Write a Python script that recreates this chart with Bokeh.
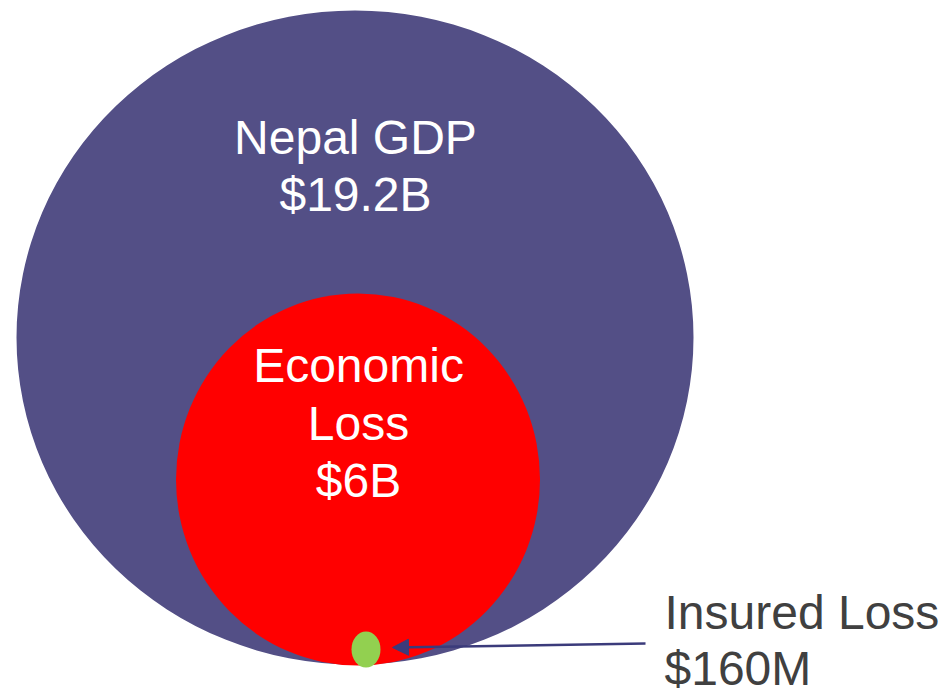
from bokeh.plotting import figure
from bokeh.models import Range1d, Arrow, NormalHead, ColumnDataSource
from bokeh.core.properties import value
from bokeh.embed import file_html
from bokeh.resources import INLINE

# Data
names = ["Nepal GDP", "Economic Loss", "Insured Loss"]
amounts = ["$19.2B", "$6B", "$160M"]
colors = ["#534F86", "#FF0000", "#92D050"]

# layout of circles (pixel space)
cx = [354.5, 357.5, 365.5]
cy = [337, 479, 649]
w = [677, 364, 29]
h = [654, 372, 36]

W, H = 942, 694
p = figure(width=W, height=H, x_range=Range1d(0, W), y_range=Range1d(H, 0),
           output_backend="svg", toolbar_location=None, min_border=0)
p.axis.visible = False
p.grid.visible = False
p.outline_line_color = None
p.background_fill_color = "white"
p.border_fill_color = "white"

src = ColumnDataSource(dict(x=cx, y=cy, w=w, h=h, c=colors))
p.ellipse(x="x", y="y", width="w", height="h", fill_color="c", line_color=None, source=src)

font = value("Liberation Sans")
fs = value("48px")
off = -17

# labels
p.text(x=[355, 355], y=[154 + off, 211 + off], text=["Nepal GDP", amounts[0]],
       text_align="center", text_baseline="alphabetic", text_color="white",
       text_font=font, text_font_size=fs)
p.text(x=[358, 358, 358], y=[382 + off, 440 + off, 497 + off], text=["Economic", "Loss", amounts[1]],
       text_align="center", text_baseline="alphabetic", text_color="white",
       text_font=font, text_font_size=fs)
p.text(x=[664, 664], y=[629 + off, 685 + off], text=["Insured Loss", amounts[2]],
       text_align="left", text_baseline="alphabetic", text_color="#404040",
       text_font=font, text_font_size=fs)

arrow = Arrow(end=NormalHead(size=16, fill_color="#3B3B7B", line_color="#3B3B7B"),
              x_start=645, y_start=643, x_end=392, y_end=647,
              line_color="#3B3B7B", line_width=2.5)
p.add_layout(arrow)

open("out.html", "w").write(file_html(p, INLINE))
